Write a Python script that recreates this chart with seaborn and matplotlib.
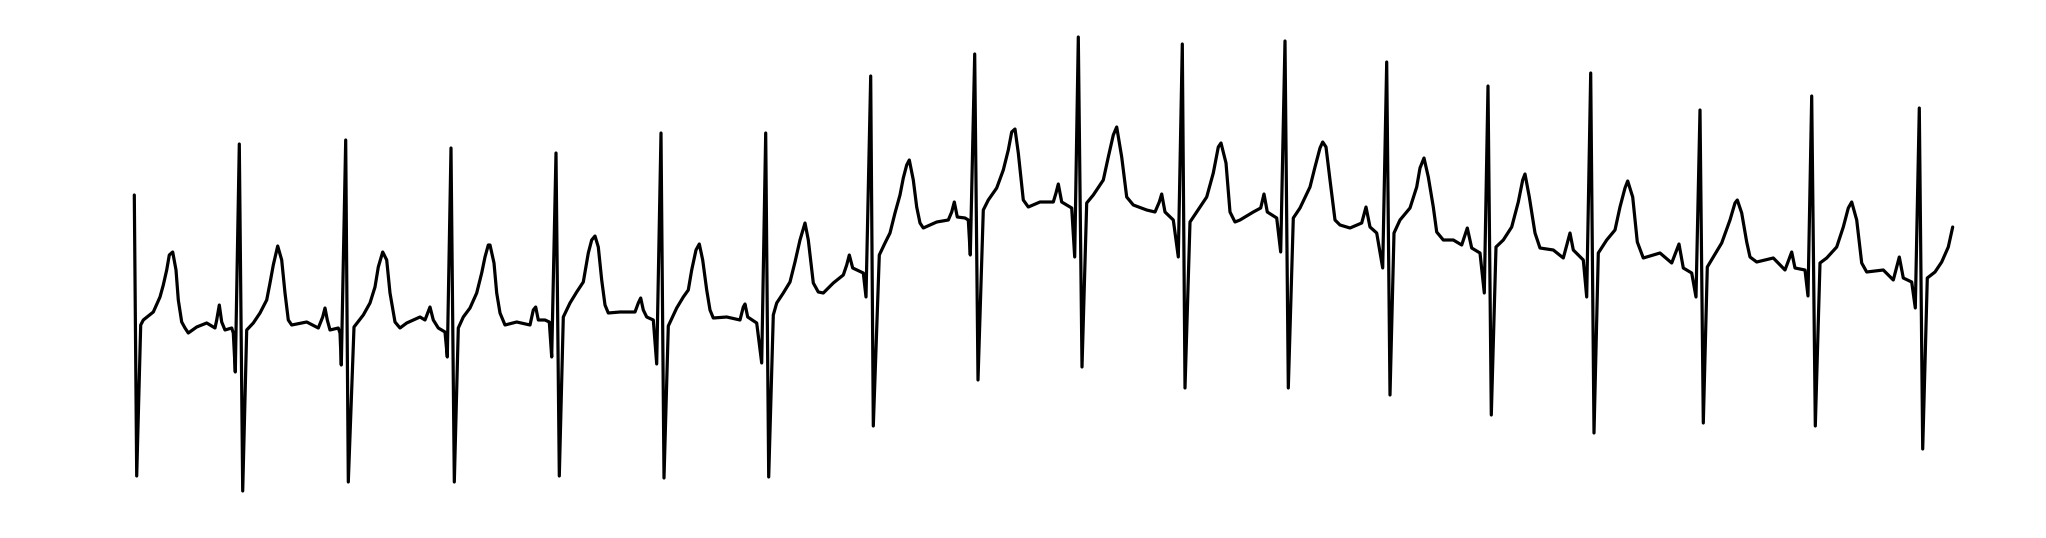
import pandas as pd
import matplotlib.pyplot as plt
import seaborn as sns

# ECG trace: time in seconds, amplitude in mV
# (key points per beat: R, S, ST upslope, T wave, baseline, P wave, Q dip)
time_s = [
    0.003, 0.027, 0.067, 0.093, 0.193, 0.260, 0.293, 0.327, 0.353, 0.387, 0.420, 0.443, 0.477, 0.510, 0.543, 0.627, 0.727, 0.810, 0.827, 0.853, 0.877, 0.910, 0.977, 0.993, 1.013, 1.053, 1.087,
    1.127, 1.193, 1.260, 1.327, 1.360, 1.393, 1.437, 1.477, 1.510, 1.543, 1.577, 1.727, 1.843, 1.887, 1.910, 1.933, 1.960, 2.043, 2.060, 2.073, 2.117, 2.143,
    2.200, 2.293, 2.360, 2.410, 2.443, 2.487, 2.527, 2.560, 2.610, 2.660, 2.727, 2.860, 2.910, 2.960, 2.993, 3.043, 3.110, 3.133, 3.170, 3.203,
    3.243, 3.293, 3.360, 3.427, 3.477, 3.510, 3.543, 3.560, 3.600, 3.627, 3.660, 3.710, 3.827, 3.960, 3.993, 4.017, 4.043, 4.110, 4.153, 4.177, 4.220, 4.253,
    4.293, 4.360, 4.427, 4.493, 4.543, 4.577, 4.610, 4.643, 4.677, 4.710, 4.743, 4.860, 5.010, 5.043, 5.067, 5.093, 5.127, 5.193, 5.227, 5.270, 5.300,
    5.343, 5.427, 5.493, 5.543, 5.577, 5.620, 5.653, 5.687, 5.727, 5.760, 5.793, 5.927, 6.060, 6.093, 6.110, 6.137, 6.227, 6.277, 6.317, 6.347,
    6.393, 6.427, 6.493, 6.560, 6.610, 6.660, 6.710, 6.743, 6.793, 6.843, 6.893, 6.993, 7.093, 7.127, 7.153, 7.187, 7.293, 7.320, 7.367, 7.393,
    7.453, 7.510, 7.560, 7.610, 7.660, 7.693, 7.727, 7.753, 7.793, 7.827, 7.860, 7.893, 8.027, 8.143, 8.177, 8.203, 8.233, 8.310, 8.343, 8.363, 8.407, 8.440,
    8.493, 8.543, 8.627, 8.693, 8.743, 8.777, 8.810, 8.843, 8.893, 8.943, 9.060, 9.193, 9.220, 9.243, 9.277, 9.377, 9.407, 9.443, 9.480,
    9.527, 9.593, 9.693, 9.743, 9.793, 9.827, 9.877, 9.927, 9.993, 10.127, 10.210, 10.253, 10.277, 10.310, 10.393, 10.443, 10.483, 10.510,
    10.560, 10.627, 10.727, 10.793, 10.843, 10.870, 10.920, 10.960, 11.010, 11.060, 11.193, 11.267, 11.300, 11.333, 11.427, 11.467, 11.510, 11.543,
    11.593, 11.660, 11.760, 11.810, 11.860, 11.887, 11.920, 11.960, 12.010, 12.060, 12.160, 12.277, 12.320, 12.360, 12.427, 12.487, 12.527, 12.560,
    12.600, 12.660, 12.760, 12.827, 12.860, 12.900, 12.943, 12.993, 13.027, 13.093, 13.193, 13.277, 13.333, 13.377, 13.460, 13.503, 13.540, 13.573,
    13.620, 13.693, 13.777, 13.843, 13.887, 13.910, 13.953, 14.010, 14.060, 14.193, 14.293, 14.360, 14.393, 14.493, 14.527, 14.567, 14.600,
    14.643, 14.727, 14.810, 14.860, 14.910, 14.937, 14.987, 15.033, 15.093, 15.260, 15.377, 15.450, 15.493, 15.577, 15.620, 15.660, 15.693,
    15.733, 15.793, 15.877, 15.960, 16.010, 16.033, 16.077, 16.127, 16.160, 16.227, 16.393, 16.510, 16.577, 16.610, 16.710, 16.740, 16.777, 16.813,
    16.860, 16.927, 17.027, 17.093, 17.143, 17.177, 17.227, 17.277, 17.327, 17.493, 17.593, 17.653, 17.693, 17.777, 17.813, 17.853, 17.887,
    17.933, 18.010, 18.077, 18.143, 18.187,
]
ecg_mv = [
    1.25, -1.56, -0.05, 0.00, 0.08, 0.23, 0.35, 0.50, 0.65, 0.68, 0.50, 0.20, -0.02, -0.08, -0.13, -0.07, -0.03, -0.08, 0.00, 0.15, -0.02, -0.10, -0.08, -0.13, -0.52, 1.76, -1.71,
    -0.10, -0.03, 0.07, 0.20, 0.37, 0.55, 0.74, 0.60, 0.27, 0.00, -0.05, -0.02, -0.08, 0.03, 0.12, 0.00, -0.10, -0.08, -0.13, -0.45, 1.80, -1.62,
    -0.07, 0.05, 0.17, 0.33, 0.53, 0.68, 0.60, 0.27, -0.02, -0.08, -0.03, 0.03, 0.00, 0.13, 0.00, -0.08, -0.12, -0.37, 1.72, -1.62,
    -0.08, 0.03, 0.12, 0.27, 0.47, 0.63, 0.75, 0.75, 0.57, 0.27, 0.07, -0.05, -0.02, -0.05, 0.10, 0.13, 0.00, 0.00, -0.02, -0.37, 1.67, -1.56,
    0.03, 0.17, 0.28, 0.38, 0.67, 0.80, 0.84, 0.73, 0.40, 0.15, 0.07, 0.08, 0.08, 0.17, 0.22, 0.10, 0.03, 0.00, -0.44, 1.87, -1.58,
    -0.06, 0.12, 0.23, 0.30, 0.50, 0.70, 0.76, 0.60, 0.30, 0.10, 0.02, 0.03, 0.00, 0.13, 0.16, 0.03, -0.03, -0.43, 1.87, -1.57,
    0.05, 0.17, 0.27, 0.38, 0.58, 0.80, 0.97, 0.80, 0.37, 0.28, 0.27, 0.37, 0.45, 0.55, 0.65, 0.52, 0.47, 0.23, 2.44, -1.06,
    0.65, 0.77, 0.87, 1.07, 1.25, 1.42, 1.55, 1.60, 1.40, 1.13, 0.97, 0.92, 0.98, 1.00, 1.08, 1.18, 1.03, 1.02, 1.00, 0.65, 2.66, -0.60,
    1.10, 1.20, 1.32, 1.50, 1.70, 1.88, 1.91, 1.67, 1.20, 1.13, 1.18, 1.18, 1.27, 1.36, 1.18, 1.12, 0.63, 2.83, -0.47,
    1.17, 1.25, 1.40, 1.63, 1.85, 1.93, 1.63, 1.23, 1.15, 1.10, 1.08, 1.18, 1.26, 1.08, 1.00, 0.63, 2.76, -0.68,
    0.98, 1.08, 1.23, 1.47, 1.73, 1.77, 1.57, 1.08, 0.98, 1.00, 1.08, 1.12, 1.26, 1.08, 1.02, 0.68, 2.79, -0.68,
    1.02, 1.12, 1.33, 1.53, 1.72, 1.78, 1.73, 1.40, 1.00, 0.95, 0.92, 0.97, 1.13, 0.93, 0.87, 0.52, 2.58, -0.75,
    0.87, 1.00, 1.12, 1.33, 1.52, 1.62, 1.43, 1.13, 0.88, 0.80, 0.80, 0.75, 0.92, 0.72, 0.67, 0.27, 2.34, -0.95,
    0.73, 0.80, 0.93, 1.18, 1.40, 1.46, 1.23, 0.87, 0.72, 0.70, 0.62, 0.87, 0.70, 0.60, 0.23, 2.47, -1.13,
    0.67, 0.80, 0.90, 1.13, 1.32, 1.39, 1.23, 0.78, 0.62, 0.67, 0.57, 0.76, 0.52, 0.47, 0.23, 2.10, -1.03,
    0.53, 0.63, 0.77, 1.00, 1.17, 1.20, 1.07, 0.78, 0.63, 0.58, 0.62, 0.50, 0.68, 0.52, 0.50, 0.24, 2.24, -1.06,
    0.57, 0.62, 0.73, 0.93, 1.12, 1.18, 1.00, 0.57, 0.48, 0.50, 0.40, 0.63, 0.42, 0.38, 0.12, 2.12, -1.29,
    0.42, 0.48, 0.58, 0.73, 0.93,
]

df = pd.DataFrame({"time_s": time_s, "ecg_mv": ecg_mv})

sns.set_theme(style="white")
fig = plt.figure(figsize=(20.46, 5.38), dpi=100)
ax = fig.add_axes([0, 0, 1, 1])
sns.lineplot(data=df, x="time_s", y="ecg_mv", sort=False, estimator=None,
             color="black", linewidth=2.3, ax=ax)
ax.set_xlim(-1.34, 19.12)
ax.set_ylim(-2.18, 3.20)
ax.axis("off")

fig.savefig("out.png", dpi=100, facecolor="white")
